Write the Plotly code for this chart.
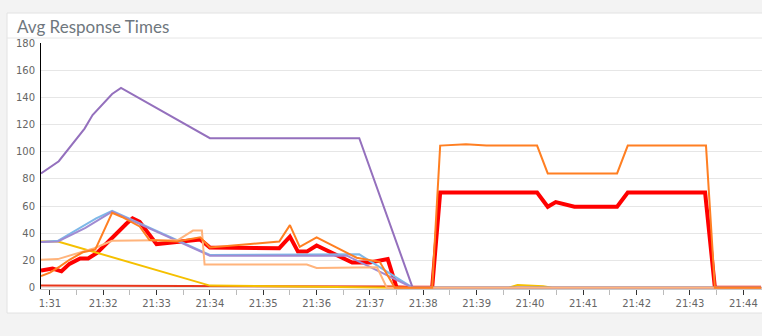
import plotly.graph_objects as go

DAY = "2024-01-01 "

# ---- data (time, value) per series ----
red_t = ["21:30:50", "21:31:03", "21:31:13", "21:31:22", "21:31:34", "21:31:43", "21:31:53", "21:32:10",
         "21:32:26", "21:32:33", "21:32:41", "21:33:00", "21:33:23", "21:33:49", "21:34:00", "21:35:18",
         "21:35:30", "21:35:39", "21:35:49", "21:36:00", "21:36:40", "21:37:00", "21:37:20", "21:37:30",
         "21:38:10", "21:38:19", "21:40:08", "21:40:20", "21:40:29", "21:40:50", "21:41:38", "21:41:50",
         "21:43:17", "21:43:28", "21:44:20"]
red_v = [12.5, 14, 12, 17.5, 21.5, 21.5, 25.5, 37,
         47, 51, 48.5, 32, 33.5, 35.5, 29.5, 29,
         37.5, 26.5, 26.5, 31, 18.5, 18.5, 21, 0,
         0, 70, 70, 59.5, 63, 59.5, 59.5, 70,
         70, 0, 0]

bottom_t = ["21:30:50", "21:34:00", "21:37:30", "21:38:00", "21:44:20"]
bottom_v = [1.5, 1.0, 0.8, 0, 0]

yellow_t = ["21:30:50", "21:31:09", "21:34:00", "21:36:00", "21:37:30", "21:39:36", "21:39:46",
            "21:40:15", "21:40:25", "21:44:20"]
yellow_v = [34, 34, 1.5, 0.5, 0, 0, 2, 1, 0, 0]

peach_t = ["21:30:50", "21:31:09", "21:31:50", "21:32:10", "21:33:24", "21:33:41", "21:33:51",
           "21:33:54", "21:35:49", "21:36:00", "21:37:08", "21:37:19", "21:44:20"]
peach_v = [20.5, 21, 29, 34.5, 35, 42, 42, 17, 17, 14.5, 15, 0, 0]

lavender_t = ["21:30:50", "21:31:09", "21:31:40", "21:32:10", "21:34:00", "21:36:34", "21:37:48", "21:44:20"]
lavender_v = [33.5, 34, 44, 56, 23.5, 23.5, 0, 0]

blue_t = ["21:30:50", "21:31:09", "21:31:52", "21:32:10", "21:34:00", "21:36:48", "21:37:48", "21:44:20"]
blue_v = [33.5, 34.5, 51, 56.5, 24, 24.5, 0, 0]

purple_t = ["21:30:50", "21:31:10", "21:31:39", "21:31:48", "21:32:10", "21:32:20", "21:34:00",
            "21:36:48", "21:37:48", "21:44:20"]
purple_v = [84, 93, 117, 127, 142.5, 147, 110, 110, 0, 0]

orange_t = ["21:30:50", "21:31:00", "21:31:11", "21:31:22", "21:31:37", "21:31:51", "21:32:10",
            "21:32:21", "21:32:41", "21:32:52", "21:33:23", "21:33:49", "21:34:00", "21:35:18",
            "21:35:30", "21:35:41", "21:36:00", "21:36:45", "21:37:11", "21:37:28", "21:38:10",
            "21:38:19", "21:38:48", "21:39:11", "21:40:08", "21:40:20", "21:41:38", "21:41:50",
            "21:43:18", "21:43:28", "21:44:20"]
orange_v = [8.5, 11, 15.5, 20.5, 26, 28, 55,
            52, 45, 35, 34, 37, 29.5, 34,
            46, 30, 37, 22, 19, 0, 0,
            104.5, 105.5, 104.5, 104.5, 84, 84, 104.5,
            104.5, 0, 0]

tick_minutes = ["21:31", "21:32", "21:33", "21:34", "21:35", "21:36", "21:37",
                "21:38", "21:39", "21:40", "21:41", "21:42", "21:43", "21:44"]
tick_labels = ["1:31"] + tick_minutes[1:]
y_ticks = [0, 20, 40, 60, 80, 100, 120, 140, 160, 180]

series = [
    (bottom_t, bottom_v, "#e8361c", 2),
    (red_t, red_v, "#ff0000", 4),
    (yellow_t, yellow_v, "#f5c000", 2),
    (blue_t, blue_v, "#7db8e8", 2),
    (lavender_t, lavender_v, "#a08bd2", 2),
    (purple_t, purple_v, "#9470bd", 2),
    (peach_t, peach_v, "#ffb47c", 2),
    (orange_t, orange_v, "#ff7f22", 2),
]

fig = go.Figure()
for t, v, c, w in series:
    fig.add_trace(go.Scatter(x=[DAY + s for s in t], y=v, mode="lines",
                             line=dict(color=c, width=w), showlegend=False,
                             hoverinfo="skip"))

W, H = 762, 336
L, R, T, B = 41, 0, 43, 47
pw, ph = W - L - R, H - T - B


def px_x(px):
    return (px - L) / pw


def px_y(py):
    return (H - B - py) / ph


fig.update_layout(
    width=W, height=H,
    margin=dict(l=L, r=R, t=T, b=B, pad=0),
    paper_bgcolor="#f3f3f3",
    plot_bgcolor="#ffffff",
    showlegend=False,
    shapes=[
        dict(type="rect", xref="paper", yref="paper", layer="below",
             x0=px_x(7), x1=px_x(800), y0=px_y(313), y1=px_y(13),
             fillcolor="#ffffff", line=dict(color="#e2e2e2", width=1)),
        dict(type="line", xref="paper", yref="paper", layer="below",
             x0=px_x(7), x1=px_x(800), y0=px_y(38), y1=px_y(38),
             line=dict(color="#e6e6e6", width=1)),
    ],
    annotations=[
        dict(text="Avg Response Times", xref="paper", yref="paper",
             x=px_x(15), y=px_y(26.5), xanchor="left", yanchor="middle",
             showarrow=False, font=dict(family="Lato", size=17, color="#6f777e")),
    ],
    xaxis=dict(
        type="date",
        range=[DAY + "21:30:50", DAY + "21:44:21"],
        tickmode="array",
        tickvals=[DAY + m for m in tick_minutes],
        ticktext=tick_labels,
        ticks="outside", ticklen=5, tickcolor="#333333", tickwidth=1,
        showline=True, linecolor="#c8c8c8", linewidth=1,
        showgrid=False, zeroline=False,
        tickfont=dict(family="DejaVu Sans", size=10, color="#666666"),
        minor=dict(ticks="outside", ticklen=5, tickcolor="#bbbbbb",
                   dtick=30000, tick0=DAY + "21:30:30", showgrid=False),
        fixedrange=True,
    ),
    yaxis=dict(
        range=[-1, 180],
        tickmode="array",
        tickvals=y_ticks,
        ticks="",
        showline=True, linecolor="#000000", linewidth=1,
        showgrid=True, gridcolor="#e6e6e6", gridwidth=1,
        zeroline=False,
        ticklabelstandoff=3,
        tickfont=dict(family="DejaVu Sans", size=10, color="#666666"),
        fixedrange=True,
    ),
)

fig.write_html("out.html")
